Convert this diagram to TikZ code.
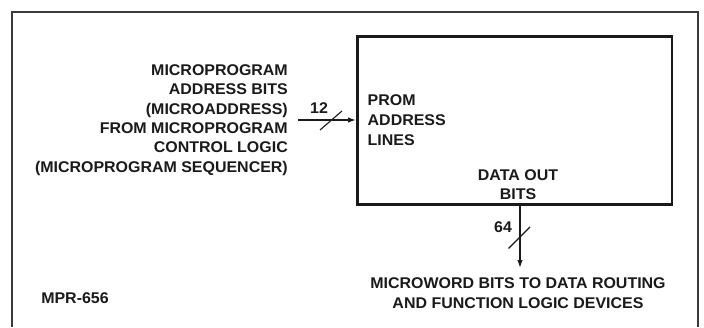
\documentclass[tikz,border=0pt]{standalone}
\usepackage{fontspec}
\setmainfont{Liberation Sans}[FakeStretch=1.03]
\usetikzlibrary{arrows.meta}
\definecolor{ink}{HTML}{1A1A1A}
\definecolor{framegray}{HTML}{3A3A3A}
\tikzset{
  lbl/.style={inner sep=0pt, text=ink, font=\fontsize{15.5}{19.3}\selectfont\bfseries},
  arr/.style={line width=1.3pt, draw=ink, -{Latex[length=8pt,width=5.5pt]}},
  slashline/.style={line width=1.1pt, draw=ink},
  block/.style={draw=ink, line width=2.6pt, inner sep=0pt, minimum width=314.7pt, minimum height=167.6pt}
}
\begin{document}
\begin{tikzpicture}[x=1pt,y=-1pt]
\useasboundingbox[fill=white] (0,0) rectangle (704,327);
% outer frame
\draw[framegray, line width=1.6pt] (12,327) -- (12,12) -- (698,12) -- (698,327);
% PROM block
\node[block] (prom) at (514.65,120.5) {};
\node[lbl, anchor=west, align=left, font=\fontsize{15.5}{20}\selectfont\bfseries] (promtxt) at (367.5,119.7) {PROM\\ADDRESS\\LINES};
\node[lbl, align=center, font=\fontsize{15.5}{19}\selectfont\bfseries] (dataout) at (518,184.5) {DATA OUT\\BITS};
% input
\node[lbl, anchor=east, align=right] (src) at (288,120) {MICROPROGRAM\\ADDRESS BITS\\(MICROADDRESS)\\FROM MICROPROGRAM\\CONTROL LOGIC\\(MICROPROGRAM SEQUENCER)};
\coordinate (inA) at (298,120);
\draw[arr] (inA) -- (inA -| prom.west);
\coordinate (s1a) at (320,130);
\coordinate (s1b) at (342,111);
\draw[slashline] (s1a) -- (s1b);
\node[lbl] (n12) at (319,108) {12};
% output
\coordinate (outx) at (520,0);
\coordinate (outEnd) at (520,268);
\draw[arr] (prom.south -| outx) -- (outEnd);
\coordinate (s2a) at (508.5,248.5);
\coordinate (s2b) at (530,227);
\draw[slashline] (s2a) -- (s2b);
\node[lbl] (n64) at (503,227) {64};
\node[lbl, align=center, font=\fontsize{15.5}{20}\selectfont\bfseries] (dest) at (518,293) {MICROWORD BITS TO DATA ROUTING\\AND FUNCTION LOGIC DEVICES};
\node[lbl] (mpr) at (75,298) {MPR-656};
\end{tikzpicture}
\end{document}
